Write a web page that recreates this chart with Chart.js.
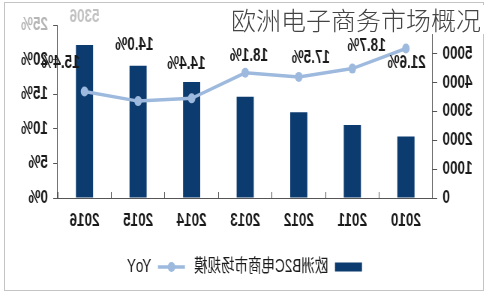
<!DOCTYPE html>
<html>
<head>
<meta charset="utf-8">
<script src="https://cdn.jsdelivr.net/npm/chart.js@4.4.1/dist/chart.umd.min.js"></script>
<style>
  html, body { margin: 0; padding: 0; background: #fff; }
  #stage { position: relative; width: 489px; height: 295px; overflow: hidden; }
  #frame { position: absolute; left: 4px; top: 2px; width: 478px; height: 287px; border: 1px solid #c4c4c4; }
  /* the picture is a mirror image of the chart, squeezed a little sideways */
  #mirror { position: absolute; left: 0; top: 0; width: 652px; height: 295px;
            transform-origin: 0 0; transform: translateX(489px) scaleX(-0.75); }
  #title { position: absolute; left: 231px; top: 5px; width: 258px; height: 29px; background: #fff;
           font-family: "Noto Sans CJK SC", sans-serif; font-weight: 300; font-size: 25px; line-height: 29px;
           color: #444; white-space: nowrap; }
</style>
</head>
<body>
<div id="stage">
  <div id="frame"></div>
  <div id="mirror"><canvas id="chart" width="652" height="295"></canvas></div>
  <div id="title">欧洲电子商务市场概况</div>
</div>
<script>
// data
const years = ["2010", "2011", "2012", "2013", "2014", "2015", "2016"];
const marketSize = [2130, 2530, 2970, 3510, 4020, 4590, 5306];
const yoy = [21.6, 18.7, 17.5, 18.1, 14.4, 14.0, 15.4];
const sizeTicks = [0, 1000, 2000, 3000, 4000, 5000, 6000];
const pctTicks = [0, 5, 10, 15, 20, 25];

// where each YoY label sits relative to its point (canvas px)
const yoyLabelShift = [[-1, 15], [-19, -23], [-16, -19], [-5, -17], [7, -34], [5, -56], [32, -28]];

const FONT = '"Liberation Sans", Arial, "Noto Sans CJK SC", sans-serif';
const barColor = "#0c3b70";
const lineColor = "#9db9dd";
const axisColor = "#555";
const textColor = "#1a1a1a";

const labelPlugin = {
    id: "labels",
    afterDatasetsDraw(chart) {
        const ctx = chart.ctx;
        ctx.save();
        ctx.font = "bold 18px " + FONT;
        ctx.textAlign = "center";
        ctx.textBaseline = "middle";

        ctx.fillStyle = textColor;
        chart.getDatasetMeta(1).data.forEach((pt, i) => {
            ctx.fillText(yoy[i].toFixed(1) + "%", pt.x + yoyLabelShift[i][0], pt.y + yoyLabelShift[i][1]);
        });

        // faded value over the latest bar
        const bars = chart.getDatasetMeta(0).data;
        const last = bars.length - 1;
        ctx.fillStyle = "#c2c2c2";
        ctx.fillText(String(marketSize[last]), bars[last].x, bars[last].y - 28);

        // dot on the YoY legend line
        const hb = chart.legend.legendHitBoxes[1];
        if (hb) {
            ctx.fillStyle = lineColor;
            ctx.beginPath();
            ctx.arc(hb.left + 18, hb.top + 9, 5, 0, Math.PI * 2);
            ctx.fill();
        }
        ctx.restore();
    }
};

const tickFont = { family: FONT, size: 18, weight: "bold" };

new Chart(document.getElementById("chart"), {
    type: "bar",
    data: {
        labels: years,
        datasets: [
            {
                label: "欧洲B2C电商市场规模",
                data: marketSize,
                yAxisID: "y",
                backgroundColor: barColor,
                borderWidth: 0,
                barPercentage: 0.32,
                categoryPercentage: 1,
                order: 1
            },
            {
                type: "line",
                label: "YoY",
                data: yoy,
                yAxisID: "y1",
                borderColor: lineColor,
                backgroundColor: lineColor,
                borderWidth: 3.5,
                pointRadius: 5,
                pointBorderWidth: 0,
                pointBackgroundColor: lineColor,
                tension: 0,
                order: 0
            }
        ]
    },
    options: {
        responsive: false,
        animation: false,
        layout: { padding: { top: 25, left: 0, right: 0, bottom: 9 } },
        scales: {
            x: {
                grid: { display: true, drawOnChartArea: false, offset: true, tickLength: -6, color: axisColor },
                border: { color: axisColor },
                ticks: { padding: 18, color: textColor, font: tickFont },
                afterFit: s => { s.height = 48; }
            },
            y: {
                position: "left",
                min: sizeTicks[0],
                max: sizeTicks[sizeTicks.length - 1],
                afterBuildTicks: s => { s.ticks = sizeTicks.map(v => ({ value: v })); },
                grid: { drawOnChartArea: false, tickLength: 6, color: axisColor },
                border: { color: axisColor },
                ticks: { padding: 7, color: textColor, font: tickFont, callback: v => String(v) },
                afterFit: s => { s.width = 75; }
            },
            y1: {
                position: "right",
                min: pctTicks[0],
                max: pctTicks[pctTicks.length - 1],
                afterBuildTicks: s => { s.ticks = pctTicks.map(v => ({ value: v })); },
                grid: { drawOnChartArea: false, tickLength: 6, color: axisColor },
                border: { color: axisColor },
                ticks: {
                    padding: 7,
                    font: tickFont,
                    color: c => (c.tick && c.tick.value === 25 ? "#b5b5b5" : textColor),
                    callback: v => v + "%"
                },
                afterFit: s => { s.width = 77; }
            }
        },
        plugins: {
            tooltip: { enabled: false },
            legend: {
                position: "bottom",
                labels: {
                    usePointStyle: true,
                    pointStyleWidth: 36,
                    boxHeight: 9,
                    padding: 12,
                    color: textColor,
                    font: { family: FONT, size: 18 },
                    generateLabels: chart => {
                        const items = Chart.defaults.plugins.legend.labels.generateLabels(chart);
                        items.sort((a, b) => a.datasetIndex - b.datasetIndex);
                        return items.map(it => Object.assign(it, it.datasetIndex === 0
                            ? { pointStyle: "rect", lineWidth: 0, fillStyle: barColor }
                            : { pointStyle: "line", lineWidth: 3.5, strokeStyle: lineColor }));
                    }
                }
            }
        }
    },
    plugins: [labelPlugin]
});
</script>
</body>
</html>
